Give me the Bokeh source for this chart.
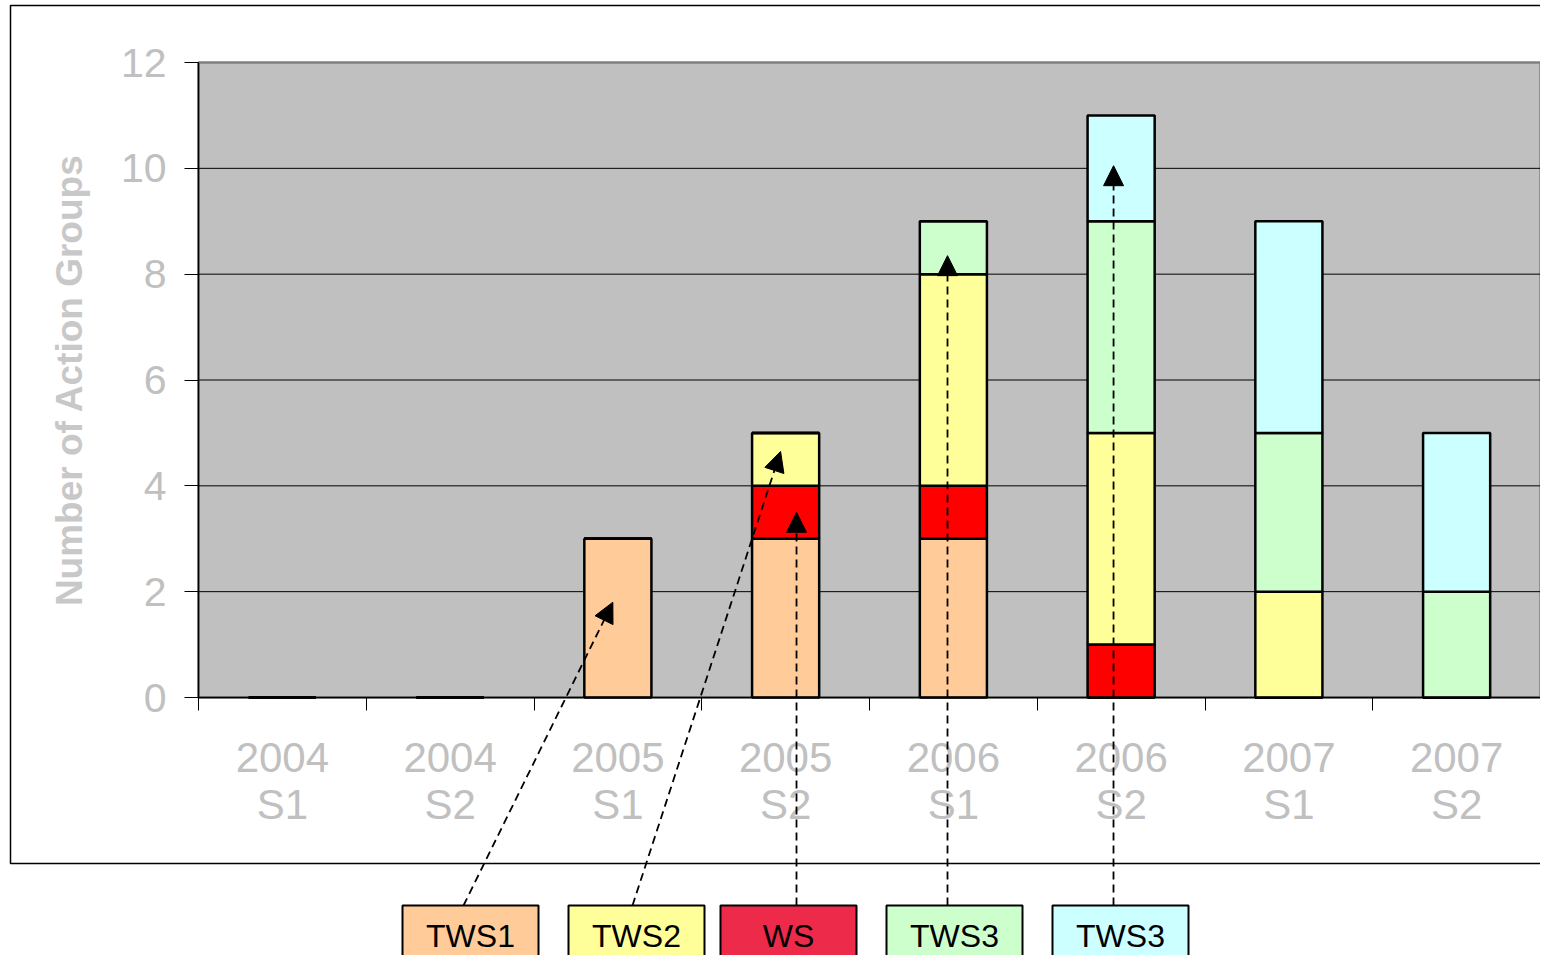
from bokeh.plotting import figure
from bokeh.models import (ColumnDataSource, Range1d, FixedTicker, BoxAnnotation, Label,
                          Arrow, NormalHead, LinearAxis)
from bokeh.embed import file_html
from bokeh.resources import INLINE

# ---- data ----
categories = ["2004\nS1", "2004\nS2", "2005\nS1", "2005\nS2",
              "2006\nS1", "2006\nS2", "2007\nS1", "2007\nS2"]
tws1 = [0, 0, 3, 3, 3, 0, 0, 0]
ws = [0, 0, 0, 1, 1, 1, 0, 0]
tws2 = [0, 0, 0, 1, 4, 4, 2, 0]
tws3_green = [0, 0, 0, 0, 1, 4, 3, 2]
tws3_cyan = [0, 0, 0, 0, 0, 2, 4, 3]
y_ticks = [0, 2, 4, 6, 8, 10, 12]
stack_names = ["tws1", "ws", "tws2", "tws3_green", "tws3_cyan"]
bar_colors = ["#FFCC99", "#FF0000", "#FFFF99", "#CCFFCC", "#CCFFFF"]
legend_labels = ["TWS1", "TWS2", "WS", "TWS3", "TWS3"]
legend_colors = ["#FFCC99", "#FFFF99", "#EE2A4B", "#CCFFCC", "#CCFFFF"]
# arrow targets (category position, value)
arrow_targets = [(2.47, 1.8), (3.47, 4.65), (3.565, 3.5), (4.465, 8.35), (5.455, 10.05)]

# ---- layout constants (canvas px) ----
W, H = 1540, 955
PL, PR, PT, PB = 198, 1540, 62, 697   # plot area box in canvas px
NX, NY = len(categories), 12
SX = (PR - PL) / NX
SY = (PB - PT) / NY

def dx(px):  # canvas px -> data x
    return (px - PL) / SX

def dy(py):  # canvas px -> data y
    return (PB - py) / SY

xs = [i + 0.5 for i in range(NX)]
source = ColumnDataSource(dict(x=xs, tws1=tws1, ws=ws, tws2=tws2,
                               tws3_green=tws3_green, tws3_cyan=tws3_cyan))

p = figure(width=W, height=H, x_range=Range1d(dx(0), dx(W)), y_range=Range1d(dy(H), dy(0)),
           min_border=0, output_backend="svg", toolbar_location=None,
           x_axis_type=None, y_axis_type=None)
p.background_fill_color = "white"
p.border_fill_color = "white"
p.outline_line_color = None
p.xgrid.visible = False
p.ygrid.visible = False

# outer frame of the chart object
p.add_layout(BoxAnnotation(left=dx(10), right=dx(1600), top=dy(5), bottom=dy(863),
                           fill_color=None, line_color="black", line_alpha=1, line_width=1.5,
                           level="underlay"))
# plot area
p.add_layout(BoxAnnotation(left=0, right=NX, bottom=0, top=NY, fill_color="#C0C0C0",
                           fill_alpha=1, line_color="#808080", line_alpha=1, line_width=2.5,
                           level="underlay"))
# horizontal gridlines (inner ticks only)
inner = y_ticks[1:-1]
p.segment(x0=[0] * len(inner), x1=[NX] * len(inner), y0=inner, y1=inner,
          line_color="black", line_width=1)

p.vbar_stack(stack_names, x="x", width=0.4, color=bar_colors, line_color="black",
             line_width=2.5, source=source)

LABEL_GRAY = "#C0C0C0"
FONT = "Liberation Sans"

# y axis
yax = LinearAxis(fixed_location=0, bounds=(0, NY), ticker=FixedTicker(ticks=y_ticks))
yax.axis_line_color = "black"
yax.axis_line_width = 1.5
yax.major_tick_line_color = "black"
yax.major_tick_out = 14
yax.major_tick_in = 0
yax.minor_tick_line_color = None
yax.major_label_text_color = LABEL_GRAY
yax.major_label_text_font = FONT
yax.major_label_text_font_size = "41px"
yax.major_label_standoff = 18
yax.axis_label = "Number of Action Groups"
yax.axis_label_text_color = "#C8C8C8"
yax.axis_label_text_font = FONT
yax.axis_label_text_font_style = "bold"
yax.axis_label_text_font_size = "37px"
yax.axis_label_standoff = 28
p.add_layout(yax, "left")

# x axis: ticks at category boundaries (minor), labels at centers
xax = LinearAxis(fixed_location=0, bounds=(0, NX),
                 ticker=FixedTicker(ticks=xs, minor_ticks=list(range(NX + 1))))
xax.major_label_overrides = {x: c for x, c in zip(xs, categories)}
xax.axis_line_color = "black"
xax.axis_line_width = 1.5
xax.major_tick_line_color = None
xax.minor_tick_line_color = "black"
xax.minor_tick_out = 13
xax.minor_tick_in = 0
xax.major_label_text_color = LABEL_GRAY
xax.major_label_text_font = FONT
xax.major_label_text_font_size = "42px"
xax.major_label_text_line_height = 1.0
xax.major_label_standoff = 23
p.add_layout(xax, "below")

# legend boxes
box_lefts = [402, 568, 720, 886, 1052]
box_w = 136
for lab, col, bl in zip(legend_labels, legend_colors, box_lefts):
    p.add_layout(BoxAnnotation(left=dx(bl), right=dx(bl + box_w), top=dy(905), bottom=dy(990),
                               fill_color=col, fill_alpha=1, line_color="black",
                               line_alpha=1, line_width=2))
    p.add_layout(Label(x=dx(bl + box_w / 2), y=dy(935), text=lab, text_align="center",
                       text_baseline="middle", text_font=FONT,
                       text_font_size="32px", text_color="black"))

# dashed arrows
arrow_starts = [463, 632, 796, 947, 1113]
for sx, (tx, ty) in zip(arrow_starts, arrow_targets):
    p.add_layout(Arrow(end=NormalHead(size=20, fill_color="black", line_color="black"),
                       x_start=dx(sx), y_start=dy(905), x_end=tx, y_end=ty,
                       line_color="black", line_width=1.8, line_dash="8 5"))

open("out.html", "w").write(file_html(p, INLINE))
